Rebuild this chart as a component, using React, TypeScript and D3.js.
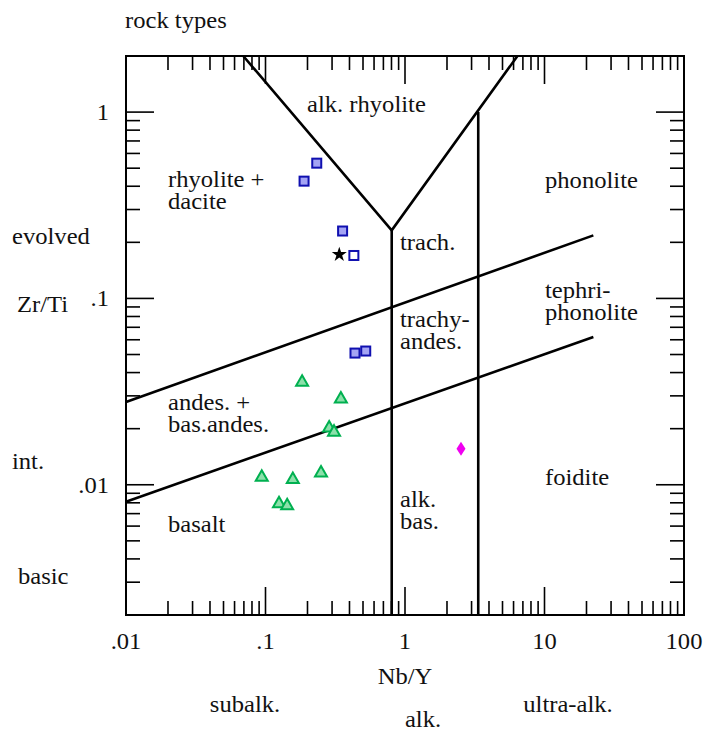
import React from 'react';
import * as d3 from 'd3';

const W = 703;
const H = 733;
const margin = { left: 126, right: 19, top: 56, bottom: 118 };

// samples, [Nb/Y, Zr/Ti]
const blueFilled = [[0.189, 0.426], [0.233, 0.532], [0.357, 0.23], [0.438, 0.0509], [0.523, 0.0522]];
const blueOpen = [[0.43, 0.17]];
const starPts = [[0.338, 0.172]];
const greenTri = [
  [0.183, 0.0359], [0.347, 0.0292], [0.286, 0.0204], [0.31, 0.0194],
  [0.094, 0.0111], [0.157, 0.0108], [0.25, 0.0117], [0.125, 0.008], [0.143, 0.0078],
];
const magentaPts = [[2.52, 0.0156]];

// field boundaries (Pearce 1996)
const boundaries = [
  [[0.0693, 2], [0.803, 0.232], [6.4, 2]],
  [[0.803, 0.002], [0.803, 0.232]],
  [[3.35, 0.002], [3.35, 1.0]],
  [[0.01, 0.0278], [22.4, 0.218]],
  [[0.01, 0.0081], [22.4, 0.0621]],
];

const fieldLabels = [
  { t: ['alk. rhyolite'], x: 307, y: 112 },
  { t: ['rhyolite +', 'dacite'], x: 168, y: 187 },
  { t: ['phonolite'], x: 545, y: 188 },
  { t: ['trach.'], x: 400, y: 250 },
  { t: ['tephri-', 'phonolite'], x: 545, y: 298 },
  { t: ['trachy-', 'andes.'], x: 400, y: 327 },
  { t: ['andes. +', 'bas.andes.'], x: 168, y: 410 },
  { t: ['basalt'], x: 168, y: 532 },
  { t: ['alk.', 'bas.'], x: 400, y: 507 },
  { t: ['foidite'], x: 545, y: 485 },
];

const sideLabels = [
  { t: 'rock types', x: 125, y: 28, a: 'start' },
  { t: 'evolved', x: 12, y: 244, a: 'start' },
  { t: 'Zr/Ti', x: 17, y: 312, a: 'start' },
  { t: 'int.', x: 12, y: 469, a: 'start' },
  { t: 'basic', x: 18, y: 584, a: 'start' },
  { t: 'Nb/Y', x: 405, y: 684, a: 'middle' },
  { t: 'subalk.', x: 245, y: 712, a: 'middle' },
  { t: 'alk.', x: 423, y: 727, a: 'middle' },
  { t: 'ultra-alk.', x: 568, y: 712, a: 'middle' },
];

const xTickLabels = ['.01', '.1', '1', '10', '100'];
const yTickLabels = ['.01', '.1', '1'];

const font = "'Liberation Serif', 'Times New Roman', serif";
const fs = 23;
const stretch = 1.07;

function Label({ x, y, lines, anchor = 'start', lh = 22 }: { x: number; y: number; lines: string[]; anchor?: string; lh?: number }) {
  return (
    <text transform={`translate(${x},${y}) scale(${stretch},1)`} textAnchor={anchor}>
      {lines.map((l, i) => (
        <tspan key={i} x={0} dy={i === 0 ? 0 : lh}>{l}</tspan>
      ))}
    </text>
  );
}

export default function App() {
  const x = d3.scaleLog().domain([0.01, 100]).range([margin.left, W - margin.right]);
  const y = d3.scaleLog().domain([0.002, 2]).range([H - margin.bottom, margin.top]);
  const x0 = margin.left, x1 = W - margin.right, y0 = H - margin.bottom, y1 = margin.top;

  const isMajor = (v: number) => Math.abs(Math.log10(v) - Math.round(Math.log10(v))) < 1e-6;
  const xt = x.ticks().filter(v => v > 0.0100001 && v < 99.999);
  const yt = y.ticks().filter(v => v > 0.0020001 && v < 1.9999);
  const line = d3.line<number[]>().x(d => x(d[0])).y(d => y(d[1]));

  const sq = 9;
  const tri = (cx: number, cy: number) => `M${cx},${cy - 6}L${cx + 6},${cy + 4.5}L${cx - 6},${cy + 4.5}Z`;
  const starPath = d3.symbol().type(d3.symbolStar).size(70)();

  return (
    <svg width={W} height={H} style={{ position: 'absolute', left: 0, top: 0, background: '#fff' }}>
      <rect width={W} height={H} fill="#fff" />
      {/* ticks */}
      <g stroke="#000" strokeWidth={1.6}>
        {xt.map((v, i) => {
          const L = isMajor(v) ? 28 : 14;
          return (
            <g key={'x' + i}>
              <line x1={x(v)} x2={x(v)} y1={y0} y2={y0 - L} />
              <line x1={x(v)} x2={x(v)} y1={y1} y2={y1 + L} />
            </g>
          );
        })}
        {yt.map((v, i) => {
          const L = isMajor(v) ? 28 : 14;
          return (
            <g key={'y' + i}>
              <line x1={x0} x2={x0 + L} y1={y(v)} y2={y(v)} />
              <line x1={x1} x2={x1 - L} y1={y(v)} y2={y(v)} />
            </g>
          );
        })}
      </g>
      <rect x={x0} y={y1} width={x1 - x0} height={y0 - y1} fill="none" stroke="#000" strokeWidth={2} />
      {/* field boundaries */}
      {boundaries.map((b, i) => (
        <path key={'b' + i} d={line(b) || ''} fill="none" stroke="#000" strokeWidth={2.6} />
      ))}
      {/* data */}
      {blueFilled.map((d, i) => (
        <rect key={'bf' + i} x={x(d[0]) - sq / 2} y={y(d[1]) - sq / 2} width={sq} height={sq}
          fill="#a4a4f4" stroke="#1010b0" strokeWidth={2} />
      ))}
      {blueOpen.map((d, i) => (
        <rect key={'bo' + i} x={x(d[0]) - sq / 2} y={y(d[1]) - sq / 2} width={sq} height={sq}
          fill="#fff" stroke="#1010b0" strokeWidth={2} />
      ))}
      {starPts.map((d, i) => (
        <path key={'s' + i} d={starPath || ''} transform={`translate(${x(d[0])},${y(d[1])})`} fill="#000" />
      ))}
      {greenTri.map((d, i) => (
        <path key={'g' + i} d={tri(x(d[0]), y(d[1]))} fill="#8ce0aa" stroke="#00b050" strokeWidth={2} />
      ))}
      {magentaPts.map((d, i) => {
        const cx = x(d[0]), cy = y(d[1]);
        return <path key={'m' + i} d={`M${cx},${cy - 7}L${cx + 4.5},${cy}L${cx},${cy + 7}L${cx - 4.5},${cy}Z`} fill="#f000f0" />;
      })}
      {/* text */}
      <g fontFamily={font} fontSize={fs} fill="#111">
        {fieldLabels.map((l, i) => (
          <Label key={'f' + i} x={l.x} y={l.y} lines={l.t} />
        ))}
        {sideLabels.map((l, i) => (
          <Label key={'sl' + i} x={l.x} y={l.y} lines={[l.t]} anchor={l.a} />
        ))}
        {xTickLabels.map((t, i) => (
          <Label key={'xl' + i} x={x(Math.pow(10, i - 2))} y={649} lines={[t]} anchor="middle" />
        ))}
        {yTickLabels.map((t, i) => (
          <Label key={'yl' + i} x={109} y={y(Math.pow(10, i - 2)) + 8} lines={[t]} anchor="end" />
        ))}
      </g>
    </svg>
  );
}
